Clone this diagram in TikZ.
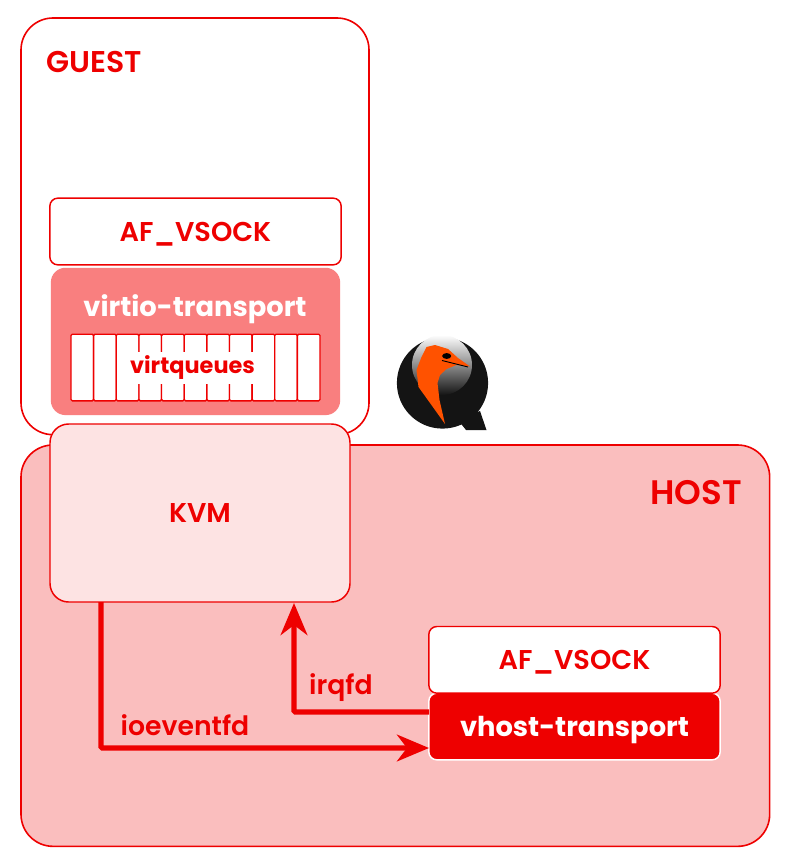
\documentclass[tikz,border=0pt]{standalone}
\usepackage{fontspec}
\setmainfont{Poppins}[UprightFont=* SemiBold, BoldFont=* Bold]
\usepackage{tikz}
\usetikzlibrary{arrows.meta, positioning}

\definecolor{rhred}{HTML}{EE0000}
\definecolor{hostbg}{HTML}{FABEBE}
\definecolor{kvmbg}{HTML}{FDE3E3}
\definecolor{virtiobg}{HTML}{F97F7F}
\definecolor{birdorange}{HTML}{FF5200}

\begin{document}
\begin{tikzpicture}[
      x=0.75pt,
      y=-0.75pt,
      node distance=0pt,
      every node/.style={
          inner sep=0pt,
          outer sep=0pt
        },
      zone/.style={
          rectangle,
          draw=rhred,
          line width=1.2pt,
          rounded corners=24pt,
          anchor=north west
        },
      layer/.style={
          rectangle,
          draw=rhred,
          line width=1.1pt,
          rounded corners=6pt,
          fill=white,
          text=rhred,
          font=\fontsize{20.4}{24}\selectfont,
          text height=14.5pt,
          text depth=0pt,
          minimum width=218.5pt,
          minimum height=50pt
        },
      caption/.style={
          text=rhred,
          font=\fontsize{20}{24}\selectfont
        },
      qcell/.style={
          rectangle,
          draw=rhred,
          line width=1pt,
          rounded corners=1pt,
          fill=white,
          minimum width=16.98pt,
          minimum height=50pt
        },
      flow/.style={
          draw=rhred,
          line width=3.9pt,
          rounded corners=1pt,
          -{Stealth[length=24pt,width=20pt,inset=7.5pt]}
        }
    ]
    \useasboundingbox (0,0) rectangle (798,867);

    % Zones
    \node[zone, fill=hostbg, minimum width=561.5pt, minimum height=301pt] (host) at (21,445) {};
    \node[zone, fill=white, minimum width=261pt, minimum height=312.5pt] (guest) at (21,18) {};
    \node[caption, font=\fontsize{22.5}{24}\selectfont] (guestlabel) at (94.5,62) {GUEST};
    \node[caption, font=\fontsize{25.5}{28}\selectfont] (hostlabel) at (696,492.5) {HOST};

    % Guest stack
    \node[layer] (guestsock) at (195.5,231.5) {AF\_VSOCK};
    \node[rectangle, fill=virtiobg, rounded corners=11pt, minimum width=217pt, minimum height=110.5pt,
      below=2.2pt of guestsock.south] (virtio) {};
    \node[font=\fontsize{20.5}{24}\selectfont\bfseries, text=white] (virtiolabel) at (195,309) {virtio-transport};

    % Queue cells
    \foreach \i in {1,...,11} {
        \node[qcell] (cell\i) at ({71+(\i-0.5)*22.64},367.5) {};
      }
    \node[fill=white, text=rhred, font=\fontsize{16.8}{20}\selectfont\bfseries,
      minimum width=94pt, minimum height=24pt] (queues) at (192.5,367.5) {virtqueues};

    % KVM
    \node[layer, fill=kvmbg, rounded corners=14pt, minimum width=225pt, minimum height=133.5pt] (kvm) at (200,513) {KVM};

    % Host stack
    \node[layer, fill=rhred, draw=white, text=white, font=\fontsize{20.5}{24}\selectfont\bfseries] (vhost) at (574.5,726.5) {vhost-transport};
    \node[layer, above=0pt of vhost] (hostsock) {AF\_VSOCK};

    % Bird logo
    \fill[black!92] (458,420) -- (480,411) -- (486.5,430) -- (466,430) -- cycle;
    \fill[black!92] (442.5,383) circle (34.2pt);
    \shade[top color=white, bottom color=black!92, middle color=black!45] (442,365) circle (22.5pt);
    \fill[birdorange] (426.5,347) -- (435,345) -- (448,349) -- (458,358) -- (470,366.5) -- (456.5,365)
      -- (446.5,369) -- (440,375) -- (437.5,383) -- (439.5,400) -- (445,424) -- (430,403)
      -- (418.5,387) -- (416.5,370) -- (421.5,357) -- cycle;
    \fill[black] (446.7,356) ellipse (3.4pt and 2.2pt);
    \draw[black, line width=0.7pt] (442,360.5) -- (468,367);

    % Arrows
    \coordinate (kvmout) at (101,602);
    \coordinate (kvmin) at (294,603);
    \coordinate (vhostin) at (429,748);
    \coordinate (vhostout) at (429,712);
    \draw[flow] (kvmout) |- (vhostin);
    \draw[flow] (vhostout) -| (kvmin);

    % Arrow labels
    \node[caption] (ioeventfd) at (185,725) {ioeventfd};
    \node[caption] (irqfd) at (341,687.5) {irqfd};
  \end{tikzpicture}
\end{document}
